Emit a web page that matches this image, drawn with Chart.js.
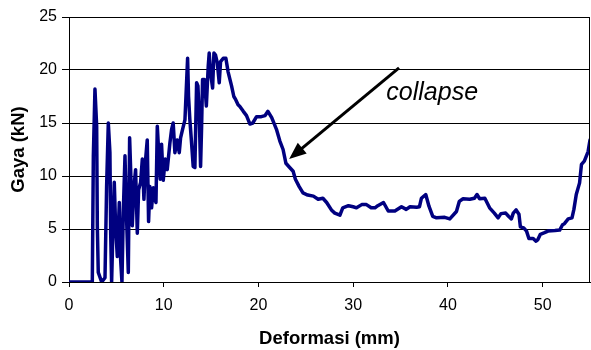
<!DOCTYPE html>
<html>
<head>
<meta charset="utf-8">
<script src="https://cdn.jsdelivr.net/npm/chart.js@4.4.1/dist/chart.umd.min.js"></script>
<style>
  html, body { margin: 0; padding: 0; background: #fff; }
  #chart { display: block; }
</style>
</head>
<body>
<canvas id="chart" width="591" height="350"></canvas>
<script>
// deformation (mm) and load (kN) pairs of the test record
var deformasi = [
  0, 2.46, 2.57, 2.74, 2.92, 2.99, 3.09, 3.45, 3.80, 3.97, 4.15, 4.32, 4.40, 4.50, 4.68, 4.78,
  4.92, 5.10, 5.31, 5.45, 5.59, 5.73, 5.91, 6.08, 6.26, 6.40, 6.54, 6.68, 6.86, 7.03, 7.21, 7.35,
  7.56, 7.74, 7.91, 8.09, 8.26, 8.40, 8.54, 8.72, 8.90, 9.07, 9.18, 9.32, 9.49, 9.63, 9.77, 9.95,
  10.16, 10.37, 10.65, 10.83, 11.0, 11.18, 11.43, 11.64, 11.78, 11.99, 12.24, 12.41, 12.52, 12.62,
  12.76, 12.94, 13.11, 13.29, 13.47, 13.61, 13.75, 13.89, 14.0, 14.1, 14.3, 14.5, 14.7, 14.8,
  14.95, 15.16, 15.3, 15.47, 15.65, 15.86, 16.0, 16.28, 16.56, 16.8, 17.16, 17.4, 17.6, 17.86,
  18.0, 18.4, 18.74, 19.1, 19.4, 19.8, 20.3, 20.7, 21.0, 21.4, 21.9, 22.26, 22.6, 22.9, 23.2,
  23.66, 23.9, 24.3, 24.7, 25.2, 25.8, 26.3, 26.8, 27.2, 27.7, 28.06, 28.6, 28.9, 29.5, 30.0,
  30.35, 30.9, 31.4, 31.9, 32.3, 32.6, 33.2, 33.7, 34.4, 35.1, 35.6, 36.0, 36.7, 37.0, 37.2,
  37.66, 38.0, 38.4, 38.8, 39.66, 40.2, 40.9, 41.2, 41.6, 42.3, 42.8, 43.07, 43.35, 43.9, 44.4,
  44.9, 45.3, 45.6, 46.1, 46.4, 46.7, 46.9, 47.2, 47.5, 47.65, 48.0, 48.3, 48.55, 49.0, 49.3,
  49.5, 49.76, 50.2, 50.56, 51.3, 51.8, 52.1, 52.3, 52.7, 53.1, 53.3, 53.55, 53.9, 54.1, 54.4,
  54.8, 55.0
];
var gaya = [
  0, 0, 11.9, 18.2, 14.7, 5.3, 0.9, 0, 0.4, 9.0, 15.0, 12.2, 4.6, 0, 6.5, 9.4,
  5.3, 2.4, 7.5, 2.1, 0, 6.5, 11.9, 5.9, 0.9, 13.6, 9.7, 5.3, 9.0, 10.6, 4.6, 8.7,
  9.4, 11.6, 7.8, 11.6, 13.4, 5.7, 9.0, 7.0, 8.9, 7.8, 7.5, 14.7, 11.9, 9.7, 13.0, 9.6,
  11.6, 10.6, 13.1, 14.4, 15.0, 12.2, 13.4, 12.2, 13.6, 14.4, 15.3, 18.8, 21.1, 17.5,
  15.3, 13.1, 10.9, 10.8, 18.8, 18.5, 15.6, 10.9, 14.7, 19.1, 19.1, 16.6, 20.4, 21.6,
  19.7, 18.3, 21.6, 21.4, 20.7, 18.8, 20.8, 21.1, 21.1, 19.8, 18.5, 17.5, 17.2, 16.7,
  16.6, 16.1, 15.7, 14.9, 15.0, 15.6, 15.6, 15.7, 16.1, 15.5, 14.4, 13.3, 12.5, 11.2, 10.9,
  10.45, 9.7, 9.0, 8.4, 8.2, 8.1, 7.8, 7.9, 7.5, 6.8, 6.5, 6.3, 7.0, 7.2, 7.1,
  7.0, 7.3, 7.3, 7.0, 7.0, 7.2, 7.5, 6.7, 6.7, 7.1, 6.85, 7.1, 7.05, 7.1, 7.9,
  8.25, 7.15, 6.2, 6.05, 6.1, 5.95, 6.65, 7.6, 7.85, 7.8, 7.9, 8.25, 7.85, 7.9, 7.0,
  6.5, 6.05, 6.45, 6.5, 6.2, 5.95, 6.5, 6.8, 6.4, 5.2, 5.1, 4.8, 4.1, 4.1, 3.85,
  4.0, 4.5, 4.65, 4.8, 4.85, 4.9, 5.4, 5.5, 5.95, 6.05, 6.85, 8.25, 9.35, 11.1, 11.4,
  12.3, 13.4
];

var xTicks = [0, 10, 20, 30, 40, 50];
var yTicks = [0, 5, 10, 15, 20, 25];

// "collapse" note: arrow tail/head and label anchor, in data units
var arrowFrom = [34.84, 20.2];
var arrowTo = [23.24, 11.6];
var noteAt = [33.5, 17.2];
var noteText = 'collapse';

var points = deformasi.map(function(d, i) { return { x: d, y: gaya[i] }; });

// closes the plot box and draws the arrow + note
var notePlugin = {
  id: 'note',
  afterDraw: function(chart) {
    var ctx = chart.ctx, a = chart.chartArea;
    var xs = chart.scales.x, ys = chart.scales.y;
    ctx.save();
    ctx.strokeStyle = '#000';
    ctx.lineWidth = 1;
    ctx.beginPath();
    ctx.moveTo(Math.round(a.right) - 0.5, a.top);
    ctx.lineTo(Math.round(a.right) - 0.5, a.bottom);
    ctx.stroke();

    var x1 = xs.getPixelForValue(arrowFrom[0]), y1 = ys.getPixelForValue(arrowFrom[1]);
    var x2 = xs.getPixelForValue(arrowTo[0]), y2 = ys.getPixelForValue(arrowTo[1]);
    var ang = Math.atan2(y2 - y1, x2 - x1);
    var headLen = 17, headW = 7;
    var bx = x2 - headLen * Math.cos(ang), by = y2 - headLen * Math.sin(ang);
    ctx.lineWidth = 3;
    ctx.beginPath();
    ctx.moveTo(x1, y1);
    ctx.lineTo(bx + 2 * Math.cos(ang), by + 2 * Math.sin(ang));
    ctx.stroke();
    ctx.fillStyle = '#000';
    ctx.beginPath();
    ctx.moveTo(x2, y2);
    ctx.lineTo(bx + headW * Math.sin(ang), by - headW * Math.cos(ang));
    ctx.lineTo(bx - headW * Math.sin(ang), by + headW * Math.cos(ang));
    ctx.closePath();
    ctx.fill();

    ctx.font = 'italic 25px "Liberation Sans", Arial, sans-serif';
    ctx.textAlign = 'left';
    ctx.textBaseline = 'alphabetic';
    ctx.fillText(noteText, xs.getPixelForValue(noteAt[0]), ys.getPixelForValue(noteAt[1]));
    ctx.restore();
  }
};

Chart.defaults.font.family = '"Liberation Sans", Arial, sans-serif';
Chart.defaults.color = '#000';

new Chart(document.getElementById('chart'), {
  type: 'line',
  data: {
    datasets: [{
      data: points,
      borderColor: '#000080',
      borderWidth: 3.5,
      borderJoinStyle: 'round',
      borderCapStyle: 'round',
      pointRadius: 0,
      tension: 0,
      fill: false
    }]
  },
  options: {
    responsive: false,
    animation: false,
    devicePixelRatio: 1,
    layout: { padding: { top: 17, right: 1, left: 0, bottom: 0 } },
    plugins: { legend: { display: false }, tooltip: { enabled: false } },
    scales: {
      x: {
        type: 'linear',
        min: 0,
        max: 55,
        afterFit: function(s) { s.height = 68; },
        afterBuildTicks: function(s) {
          s.ticks = xTicks.map(function(v) { return { value: v }; });
        },
        grid: { drawOnChartArea: false, color: '#000', tickLength: 5 },
        border: { color: '#000', width: 1 },
        ticks: { font: { size: 16 }, padding: 9, maxRotation: 0 },
        title: {
          display: true,
          text: 'Deformasi (mm)',
          font: { size: 18.5, weight: 'bold' },
          padding: { top: 0, bottom: 0 }
        }
      },
      y: {
        min: 0,
        max: 25,
        afterFit: function(s) { s.width = 69; },
        afterBuildTicks: function(s) {
          s.ticks = yTicks.map(function(v) { return { value: v }; });
        },
        grid: { color: '#000', tickLength: 7 },
        border: { color: '#000', width: 1 },
        ticks: { font: { size: 16 }, padding: 5 },
        title: {
          display: true,
          text: 'Gaya (kN)',
          font: { size: 18.5, weight: 'bold' },
          padding: { top: 8, bottom: 0 }
        }
      }
    }
  },
  plugins: [notePlugin]
});
</script>
</body>
</html>
